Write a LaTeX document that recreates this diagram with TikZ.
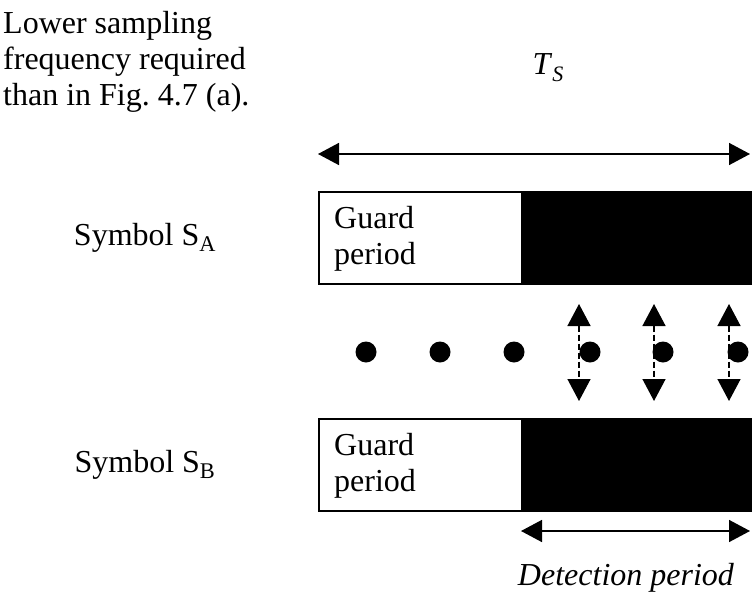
\documentclass[tikz,border=0pt]{standalone}
\usepackage{fontspec}
\setmainfont{Liberation Serif}
\usetikzlibrary{arrows.meta}
\begin{document}
\begin{tikzpicture}[x=1pt,y=-1pt,
  txt/.style={inner sep=0pt,font=\fontsize{32}{36}\selectfont},
  guardbox/.style={draw=black,line width=1.5pt,fill=white,minimum width=203pt,minimum height=92pt,inner sep=0pt,anchor=north west},
  detbox/.style={draw=black,line width=1.5pt,fill=black,minimum width=231pt,minimum height=92pt,inner sep=0pt,anchor=north west},
  dot/.style={circle,fill=black,minimum size=21pt,inner sep=0pt},
  dimarrow/.style={{Triangle[length=21pt,width=22pt]}-{Triangle[length=21pt,width=22pt]},line width=1.5pt},
  samparrow/.style={{Triangle[length=22pt,width=23pt]}-{Triangle[length=22pt,width=23pt]},line width=1.4pt,dash pattern=on 6pt off 3pt}]
\useasboundingbox (0,0) rectangle (752,597);
% note
\node[txt,anchor=north west,align=left] (note) at (3,11) {Lower sampling\\frequency required\\than in Fig.~4.7 (a).};
% Ts
\node[txt] (ts) at (548,68) {\textit{T}\raisebox{-0.22em}{\fontsize{22}{22}\selectfont\textit{S}}};
\coordinate (tsl) at (318,154);
\coordinate (tsr) at (750,154);
\draw[dimarrow] (tsl) -- (tsr);
% Symbol A
\node[guardbox] (ga) at (318,191) {};
\node[detbox] (da) at (521,191) {};
\node[txt,anchor=north west,align=left] (gatxt) at (334,206) {Guard\\period};
\node[txt] (sa) at (145,238) {Symbol S\textsubscript{A}};
% dots
\node[dot] (d1) at (366,352) {};
\node[dot] (d2) at (440,352) {};
\node[dot] (d3) at (514,352) {};
\node[dot] (d4) at (590,352) {};
\node[dot] (d5) at (663,352) {};
\node[dot] (d6) at (738,352) {};
% sampling arrows
\foreach \n/\x in {a/579,b/654,c/729}{
  \coordinate (top\n) at (\x,304);
  \coordinate (bot\n) at (\x,401);
  \draw[samparrow] (top\n) -- (bot\n);
}
% Symbol B
\node[guardbox] (gb) at (318,418) {};
\node[detbox] (db) at (521,418) {};
\node[txt,anchor=north west,align=left] (gbtxt) at (334,433) {Guard\\period};
\node[txt] (sb) at (145,465) {Symbol S\textsubscript{B}};
% detection period
\coordinate (dl) at (521,531);
\coordinate (dr) at (750,531);
\draw[dimarrow] (dl) -- (dr);
\node[txt] (det) at (626,578) {\textit{Detection period}};
\end{tikzpicture}
\end{document}
